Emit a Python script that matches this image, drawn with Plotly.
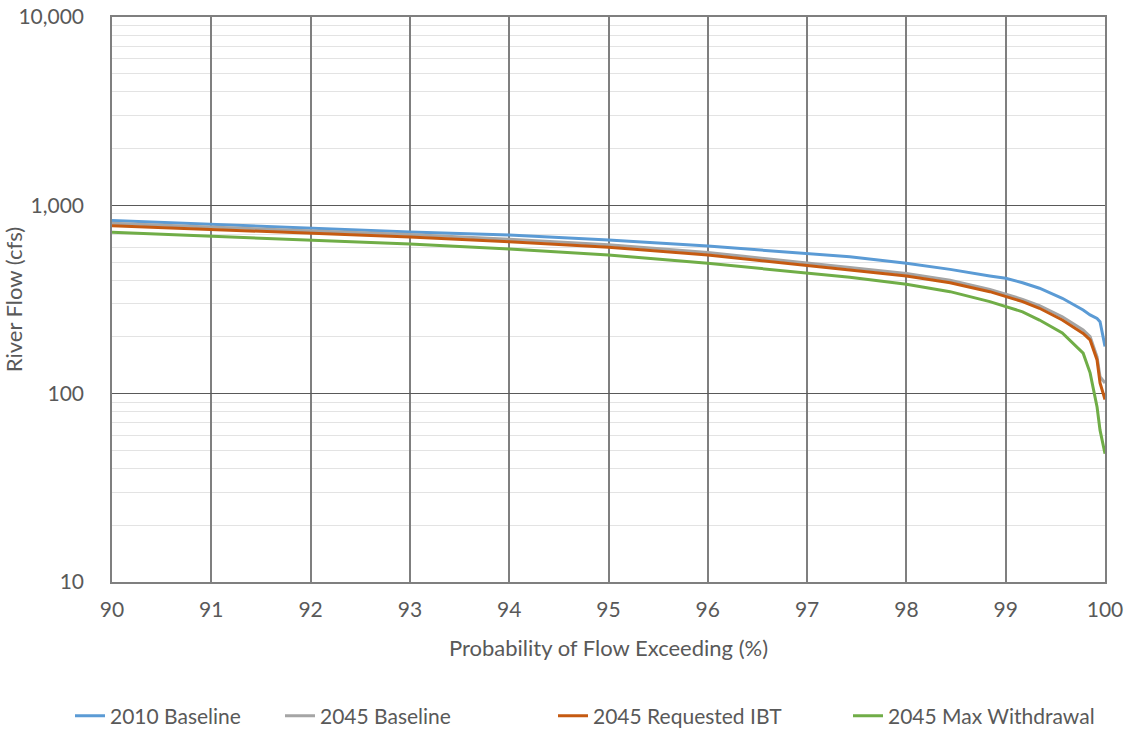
import plotly.graph_objects as go

# Exceedance probability (%) sample points
prob = [90, 91, 92, 93, 94, 95, 96, 97, 97.43, 98, 98.44, 98.84, 99, 99.17, 99.34,
        99.57, 99.78, 99.85, 99.92, 99.95, 100]

# River flow (cfs) per scenario
flow_2010_baseline = [831, 793, 755, 722, 696, 654, 608, 556, 533, 492, 457, 422, 410, 388, 363,
                      321, 278, 262, 251, 241, 178]
flow_2045_baseline = [803, 769, 732, 700, 661, 618, 562, 497, 468, 435, 400, 358, 338, 317, 293,
                      256, 218, 201, 157, 123, 114]
flow_2045_requested_ibt = [779, 746, 710, 679, 641, 599, 545, 482, 454, 422, 388, 348, 327, 308, 284,
                           246, 209, 193, 151, 114, 93]
flow_2045_max_withdrawal = [719, 687, 654, 623, 586, 545, 492, 436, 415, 381, 348, 308, 289, 272, 246,
                            210, 164, 129, 85, 64, 48]

series_names = ["2010 Baseline", "2045 Baseline", "2045 Requested IBT", "2045 Max Withdrawal"]
series_values = [flow_2010_baseline, flow_2045_baseline, flow_2045_requested_ibt, flow_2045_max_withdrawal]
series_colors = ["#5B9BD5", "#A5A5A5", "#C55A11", "#70AD47"]

x_ticks = [90, 91, 92, 93, 94, 95, 96, 97, 98, 99, 100]
y_tickvals = [10, 100, 1000, 10000]
y_ticktext = ["10", "100", "1,000", "10,000"]

FONT = "Lato, 'Open Sans', sans-serif"
TXT = "#595959"
FS = 21
FS_TITLE = 22

W, H = 1132, 730
ML, MR, MT, MB = 112, 27, 17, 148
PW = W - ML - MR
PH = H - MT - MB

# legend entry left edges (pixels) and vertical centre
legend_px = [70, 280, 553, 848]
legend_cy = 716

fig = go.Figure()
legend_ids = ["legend", "legend2", "legend3", "legend4"]
for name, vals, col, lid in zip(series_names, series_values, series_colors, legend_ids):
    fig.add_trace(go.Scatter(x=prob, y=vals, mode="lines", name=name, legend=lid,
                             line=dict(color=col, width=3)))

layout_legends = {}
for lid, px in zip(legend_ids, legend_px):
    layout_legends[lid] = dict(
        orientation="h", x=(px - ML) / PW, xanchor="left",
        y=(H - MB - legend_cy) / PH, yanchor="middle",
        font=dict(size=FS, color=TXT, family=FONT), bgcolor="rgba(0,0,0,0)",
    )

fig.update_layout(
    width=W, height=H,
    margin=dict(l=ML, r=MR, t=MT, b=MB, autoexpand=False),
    paper_bgcolor="white", plot_bgcolor="white",
    font=dict(family=FONT, size=FS, color=TXT),
    showlegend=True,
    **layout_legends,
)
fig.update_xaxes(
    range=[90, 100], tickvals=x_ticks, showgrid=True, gridcolor="#7F7F7F", gridwidth=1.5,
    showline=True, linecolor="#7F7F7F", linewidth=1.5, mirror=True, zeroline=False,
    ticks="", ticklabelstandoff=8,
    title=dict(text="Probability of Flow Exceeding (%)", standoff=21, font=dict(size=FS_TITLE, color=TXT)),
)
fig.update_yaxes(
    type="log", range=[1, 4], tickvals=y_tickvals, ticktext=y_ticktext,
    showgrid=True, gridcolor="#595959", gridwidth=1.2,
    showline=True, linecolor="#7F7F7F", linewidth=1.5, mirror=True, zeroline=False,
    ticks="", ticklabelstandoff=22,
    minor=dict(dtick="D1", showgrid=True, gridcolor="#E3E3E3", gridwidth=1, ticks=""),
    title=dict(text="River Flow (cfs)", standoff=0, font=dict(size=FS_TITLE, color=TXT)),
)

fig.write_html("out.html", config={"displayModeBar": False},
               post_script="document.body.style.margin='0px';")
